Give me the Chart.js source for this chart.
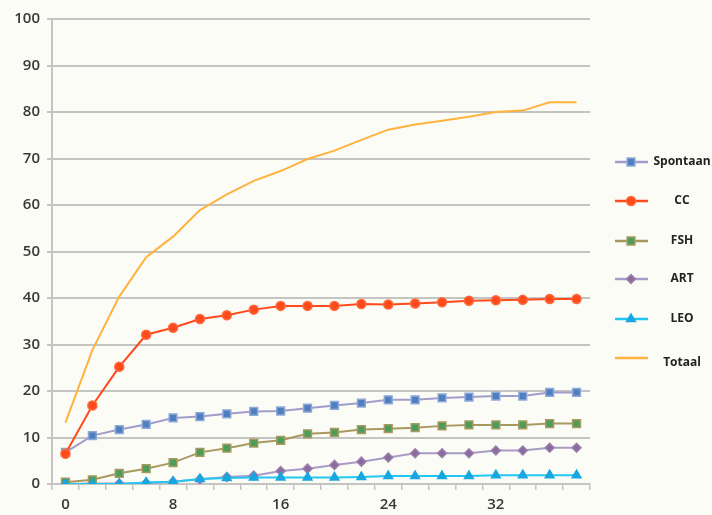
<!DOCTYPE html>
<html>
<head>
<meta charset="utf-8">
<script src="https://cdn.jsdelivr.net/npm/chart.js@4.4.1/dist/chart.umd.min.js"></script>
<style>
  html, body { margin: 0; padding: 0; background: #fcfcf7; }
  #wrap { width: 712px; height: 515px; }
</style>
</head>
<body>
<div id="wrap"><canvas id="chart" width="712" height="515"></canvas></div>
<script>
// weeks (x categories)
const weeks = ['0','2','4','6','8','10','12','14','16','18','20','22','24','26','28','30','32','34','36','38'];
const yTicks = [0, 10, 20, 30, 40, 50, 60, 70, 80, 90, 100];

const spontaan = [6.8, 10.4, 11.7, 12.8, 14.2, 14.5, 15.1, 15.6, 15.7, 16.3, 16.9, 17.4, 18.1, 18.1, 18.5, 18.7, 18.9, 18.9, 19.7, 19.7];
const cc       = [6.5, 16.9, 25.2, 32.1, 33.6, 35.5, 36.3, 37.5, 38.3, 38.3, 38.3, 38.7, 38.6, 38.8, 39.1, 39.4, 39.5, 39.6, 39.8, 39.8];
const fsh      = [0.4, 0.9, 2.3, 3.3, 4.6, 6.8, 7.7, 8.8, 9.4, 10.8, 11.1, 11.7, 11.9, 12.1, 12.5, 12.7, 12.7, 12.7, 13.0, 13.0];
const art      = [0.0, 0.1, 0.1, 0.2, 0.5, 1.0, 1.5, 1.8, 2.8, 3.3, 4.1, 4.8, 5.7, 6.6, 6.6, 6.6, 7.2, 7.2, 7.8, 7.8];
const leo      = [0.0, 0.0, 0.0, 0.3, 0.5, 1.1, 1.3, 1.4, 1.4, 1.4, 1.4, 1.5, 1.7, 1.7, 1.7, 1.7, 1.9, 1.9, 1.9, 1.9];
const totaal   = [13.2, 28.8, 40.3, 48.8, 53.2, 58.9, 62.3, 65.2, 67.3, 69.9, 71.7, 74.0, 76.2, 77.3, 78.1, 79.0, 80.0, 80.3, 82.1, 82.1];

const FONT = "'Open Sans', 'DejaVu Sans', sans-serif";
const GRID = '#c4c4c2';

const bgPlugin = {
  id: 'bg',
  beforeDraw(chart) {
    const ctx = chart.ctx;
    ctx.save();
    ctx.fillStyle = '#fcfcf7';
    ctx.fillRect(0, 0, chart.width, chart.height);
    ctx.restore();
  }
};

// legend on the right, text centred in its column like the original
const legendPlugin = {
  id: 'sideLegend',
  afterDraw(chart) {
    const ctx = chart.ctx;
    const rows = [162, 201, 241, 279, 319, 358];
    ctx.save();
    chart.data.datasets.forEach((ds, i) => {
      const y = rows[i];
      ctx.strokeStyle = ds.borderColor;
      ctx.lineWidth = 2.5;
      ctx.beginPath();
      ctx.moveTo(615, y);
      ctx.lineTo(648, y);
      ctx.stroke();
      if (ds.pointRadius > 0) {
        ctx.fillStyle = ds.pointBackgroundColor;
        ctx.strokeStyle = ds.pointBorderColor;
        ctx.lineWidth = ds.pointBorderWidth;
        Chart.helpers.drawPoint(ctx, {
          pointStyle: ds.pointStyle, radius: ds.pointRadius,
          borderWidth: ds.pointBorderWidth, rotation: 0
        }, 631, y);
      }
      ctx.fillStyle = '#222';
      ctx.font = "bold 12px " + FONT;
      ctx.textAlign = 'center';
      ctx.textBaseline = 'middle';
      ctx.fillText(ds.label, 682, i === 5 ? y + 5 : y);
    });
    ctx.restore();
  }
};

function series(label, data, line, fill, border, style, radius, order) {
  return {
    label, data, order,
    borderColor: line,
    borderWidth: 2,
    pointStyle: style,
    pointRadius: radius,
    pointHoverRadius: radius,
    pointBackgroundColor: fill,
    pointBorderColor: border,
    pointBorderWidth: 1.5,
    tension: 0,
    fill: false
  };
}

new Chart(document.getElementById('chart'), {
  type: 'line',
  data: {
    labels: weeks,
    datasets: [
      series('Spontaan', spontaan, '#a09dcb', '#4f7fbf', '#8ea8d8', 'rect', 5.5, 3),
      series('CC', cc, '#ff4a1c', '#ff4a1c', '#ff6a3c', 'circle', 4.5, 1),
      series('FSH', fsh, '#a8995e', '#4c9c5c', '#a8995e', 'rect', 5.5, 4),
      series('ART', art, '#a89cc6', '#8a6b9b', '#9a80ae', 'rectRot', 4.5, 5),
      series('LEO', leo, '#22c8f2', '#18a6e0', '#18a6e0', 'triangle', 5, 2),
      series('Totaal', totaal, '#ffb23e', '#ffb23e', '#ffb23e', false, 0, 6)
    ]
  },
  options: {
    responsive: false,
    animation: false,
    events: [],
    layout: { padding: { top: 19, right: 122, left: 0, bottom: 0 } },
    plugins: {
      legend: { display: false },
      tooltip: { enabled: false }
    },
    scales: {
      x: {
        offset: true,
        grid: { offset: true, drawOnChartArea: false, drawTicks: true, tickLength: 6, color: GRID, lineWidth: 1.5 },
        border: { display: true, color: GRID, width: 2 },
        ticks: {
          autoSkip: false, maxRotation: 0, padding: 6,
          color: '#383838', font: { family: FONT, size: 15, weight: 600 },
          callback: (v, i) => (i % 4 === 0 ? weeks[i] : '')
        },
        afterFit: s => { s.height = 31; }
      },
      y: {
        min: 0, max: 100,
        afterBuildTicks: s => { s.ticks = yTicks.map(v => ({ value: v })); },
        grid: { color: GRID, lineWidth: 2, drawTicks: true, tickLength: 5 },
        border: { display: true, color: GRID, width: 2 },
        ticks: { padding: 7, color: '#383838', font: { family: FONT, size: 15, weight: 600 } },
        afterFit: s => { s.width = 52; }
      }
    }
  },
  plugins: [bgPlugin, legendPlugin]
});
</script>
</body>
</html>
